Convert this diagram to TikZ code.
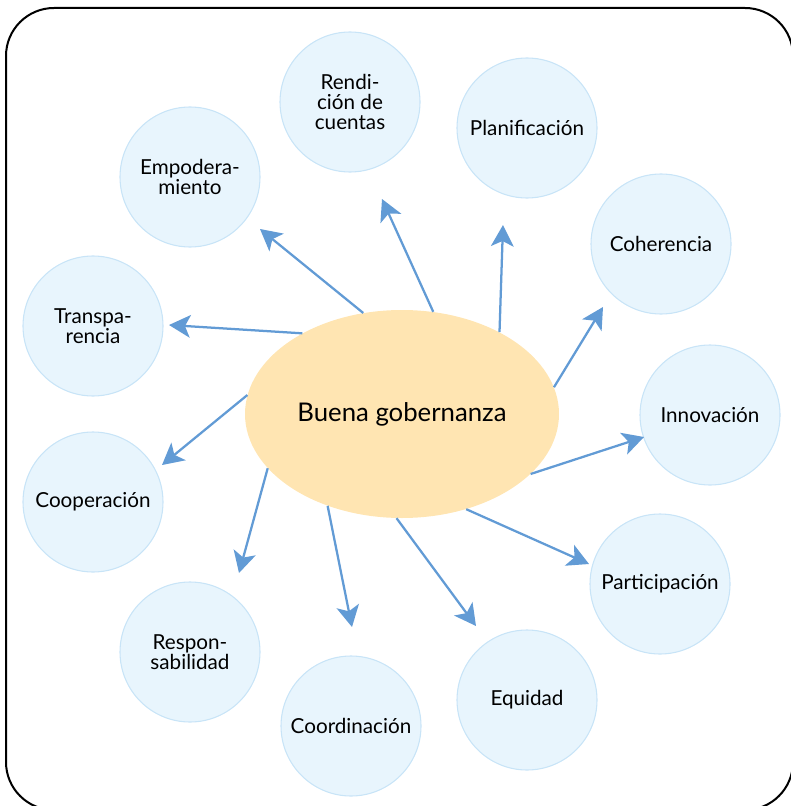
\documentclass[tikz,border=0pt]{standalone}
\usepackage{fontspec}
\setmainfont{Lato}
\usetikzlibrary{arrows.meta,shapes.geometric}
\definecolor{govblue}{RGB}{98,155,213}
\definecolor{govfill}{RGB}{232,245,253}
\definecolor{govline}{RGB}{200,228,247}
\definecolor{govcore}{RGB}{255,229,178}

\tikzset{
  topic/.style={circle, fill=govfill, draw=govline, line width=0.8pt, minimum size=105pt,
    inner sep=0pt, align=center, font=\fontsize{15.5}{15}\selectfont},
  link/.style={govblue, line width=1.7pt, -{Stealth[length=16pt,width=17pt,inset=4pt]}}
}

\begin{document}
\begin{tikzpicture}[x=0.75pt, y=-0.75pt]
    \useasboundingbox (0,0) rectangle (790,806);
    % Frame
    \draw[line width=1.5pt, rounded corners=36pt] (6,8) rectangle (793,810);

    % Centre
    \node[ellipse, fill=govcore, minimum width=235.5pt, minimum height=156pt, inner sep=0pt,
      font=\fontsize{19.3}{22}\selectfont] (gob) at (402,414) {Buena gobernanza};

    % Topics
    \node[topic] (ren) at (350,102) {Rendi-\\ción de\\ cuentas};
    \node[topic] (plan) at (527,128) {Planificación};
    \node[topic] (emp) at (190,177) {Empodera-\\miento};
    \node[topic] (coh) at (661,244) {Coherencia};
    \node[topic] (tra) at (93,326) {Transpa-\\rencia};
    \node[topic] (inn) at (710,415) {Innovación};
    \node[topic] (coop) at (93,502) {Cooperación};
    \node[topic] (part) at (660,584) {Participación};
    \node[topic] (resp) at (190,652) {Respon-\\sabilidad};
    \node[topic] (coord) at (351,726) {Coordinación};
    \node[topic] (equ) at (527,700) {Equidad};

    % Arrow tips
    \coordinate (tRen) at (382,199);
    \coordinate (tPlan) at (503,225);
    \coordinate (tEmp) at (260,229);
    \coordinate (tCoh) at (603,307);
    \coordinate (tTra) at (169,325);
    \coordinate (tInn) at (644,437);
    \coordinate (tCoop) at (162,465);
    \coordinate (tPart) at (589,564);
    \coordinate (tResp) at (239,573);
    \coordinate (tCoord) at (352,627);
    \coordinate (tEqu) at (476,626);

    % Arrows
    \draw[link] (gob.73.6) -- (tRen);
    \draw[link] (gob.40.2) -- (tPlan);
    \draw[link] (gob.111.1) -- (tEmp);
    \draw[link] (gob.10.5) -- (tCoh);
    \draw[link] (gob.141.3) -- (tTra);
    \draw[link] (gob.-25.1) -- (tInn);
    \draw[link] (gob.173.7) -- (tCoop);
    \draw[link] (gob.-56.6) -- (tPart);
    \draw[link] (gob.202.8) -- (tResp);
    \draw[link] (gob.231.9) -- (tCoord);
    \draw[link] (gob.267.3) -- (tEqu);
\end{tikzpicture}
\end{document}
